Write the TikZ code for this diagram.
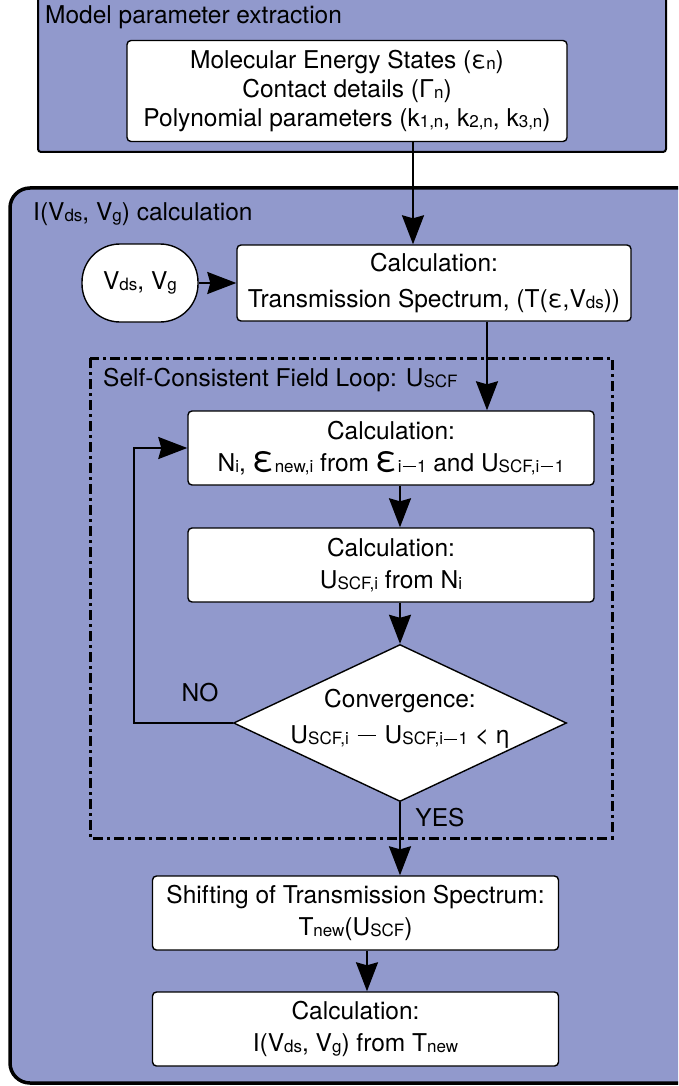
\documentclass[tikz,border=0pt]{standalone}
\usepackage{fontspec}
\setmainfont{TeX Gyre Heros}
\usetikzlibrary{shapes.geometric,arrows.meta}

\definecolor{panel}{RGB}{145,153,204}
\newcommand{\lo}[1]{\raisebox{-0.05em}{\fontsize{17}{17}\selectfont #1}}
\newcommand{\bigeps}{{\fontsize{36}{36}\selectfont ε}}
\newcommand{\mns}{\kern0.08em\rule[0.3em]{0.75em}{0.075em}\kern0.08em}

\begin{document}
\begin{tikzpicture}[x=1pt,y=-1pt,
    font=\fontsize{24.5}{32}\selectfont,
    box/.style={draw,fill=white,rounded corners=4pt,line width=1.4pt,align=center,inner sep=0pt},
    title/.style={anchor=west,inner sep=0pt},
    flow/.style={-{Stealth[length=29pt,width=22pt,inset=3pt]},line width=2pt}]
\clip (0,0) rectangle (678,1086);

% panels
\draw[fill=panel,line width=2pt,rounded corners=3pt] (38,-5) rectangle (666,152);
\draw[fill=panel,line width=3.5pt,rounded corners=20pt] (10,188) rectangle (720,1083);
\draw[line width=3pt,dash pattern=on 10pt off 4pt on 3pt off 4pt] (90,358) rectangle (612,838);

\node[title] (toplbl) at (45,17) {Model parameter extraction};
\node[title] (calclbl) at (33,214) {I(V\lo{ds}, V\lo{g}) calculation};
\node[title] (looplbl) at (103,380) {Self-Consistent Field Loop: U\lo{SCF}};

\node[box,minimum width=440,minimum height=101] (params) at (347,91)
    {Molecular Energy States (ε\lo{n})\\[-3pt]Contact details (Γ\lo{n})\\[-3pt]Polynomial parameters (k\lo{1,n}, k\lo{2,n}, k\lo{3,n})};
\node[box,rounded corners=38pt,minimum width=116,minimum height=78] (volt) at (140,283) {V\lo{ds}, V\lo{g}};
\node[box,minimum width=394,minimum height=76] (trans) at (434,283)
    {Calculation:\\[4pt]Transmission Spectrum, (T(ε,V\lo{ds}))};
\node[box,minimum width=406,minimum height=74] (nstep) at (391,448)
    {Calculation:\\N\lo{i}, \bigeps\lo{new,i} from \bigeps\lo{i\mns1} and U\lo{SCF,i\mns1}};
\node[box,minimum width=406,minimum height=74] (ustep) at (391,565)
    {Calculation:\\U\lo{SCF,i} from N\lo{i}};
\node[draw,fill=white,diamond,line width=1.4pt,minimum width=333,minimum height=157,inner sep=0pt] (conv) at (400,723) {};
\node[align=center] (convtxt) at (400,719) {Convergence:\\[4pt]U\lo{SCF,i} \mns{} U\lo{SCF,i\mns1} < η};
\node[box,minimum width=406,minimum height=74] (shift) at (355.5,913)
    {Shifting of Transmission Spectrum:\\T\lo{new}(U\lo{SCF})};
\node[box,minimum width=406,minimum height=74] (final) at (355.5,1029)
    {Calculation:\\I(V\lo{ds}, V\lo{g}) from T\lo{new}};

\node (nolbl) at (200,693) {NO};
\node (yeslbl) at (440,818) {YES};

\draw[flow] ([xshift=66pt]params.south) -- ([xshift=-21pt]trans.north);
\draw[flow] (volt) -- (trans);
\draw[flow] ([xshift=53pt]trans.south) -- ([xshift=96pt]nstep.north);
\draw[flow] ([xshift=9pt]nstep.south) -- ([xshift=9pt]ustep.north);
\draw[flow] ([xshift=9pt]ustep.south) -- (conv.north);
\draw[flow] (conv.west) -- ++(-99,0) |- (nstep.west);
\draw[flow] (conv.south) -- ([xshift=44.5pt]shift.north);
\draw[flow] ([xshift=11.5pt]shift.south) -- ([xshift=11.5pt]final.north);

\end{tikzpicture}
\end{document}
